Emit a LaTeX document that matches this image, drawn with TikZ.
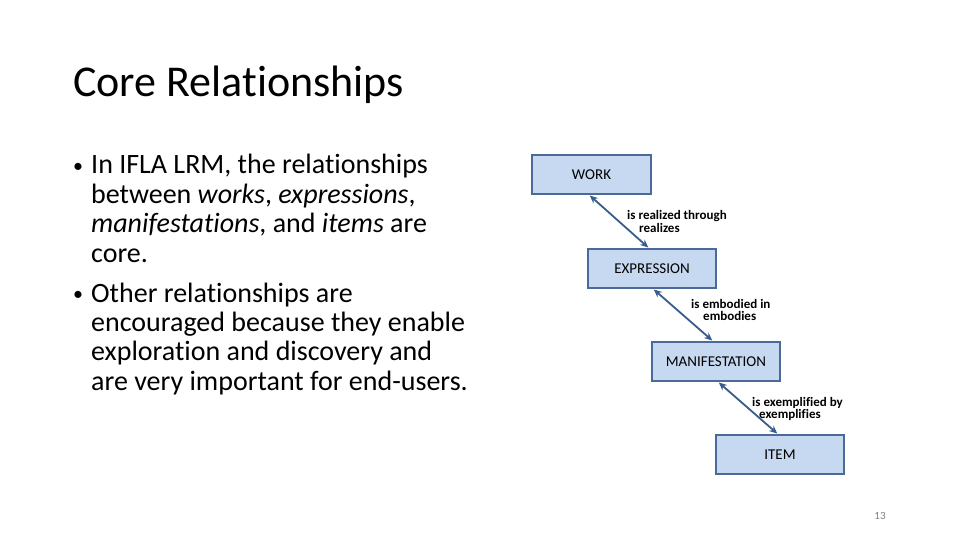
\documentclass[tikz,border=0pt]{standalone}
\usepackage{fontspec}
\setmainfont{Carlito}[Ligatures=NoCommon]
\usetikzlibrary{arrows.meta}
\definecolor{boxfill}{HTML}{C6D9F1}
\definecolor{boxline}{HTML}{4A6A9A}
\definecolor{arrowc}{HTML}{385D8A}
\begin{document}
\begin{tikzpicture}[x=1pt,y=-1pt,
  entity/.style={draw=boxline,line width=1.6pt,fill=boxfill,minimum height=39pt,inner sep=0pt,font=\fontsize{15}{16}\selectfont},
  rel/.style={font=\bfseries\fontsize{13}{12.5}\selectfont,align=left,inner sep=0pt,anchor=base west},
  link/.style={arrowc,line width=1.8pt,{Stealth[length=8pt,width=7pt]}-{Stealth[length=8pt,width=7pt]},shorten <=1pt,shorten >=1pt},
  txt/.style={anchor=base west,inner sep=0pt,font=\fontsize{28}{30}\selectfont},
  bul/.style={anchor=base west,inner sep=0pt,font=\fontsize{20}{24}\selectfont}]
\useasboundingbox (0,0) rectangle (960,540);
\fill[white] (0,0) rectangle (960,540);
\node[anchor=base west,inner sep=0pt,font=\fontsize{44}{52}\selectfont] (title) at (73,96.5) {Core Relationships};
\node[bul] (b1) at (73,172) {•};
\node[txt] (l1) at (91,174) {In IFLA LRM, the relationships};
\node[txt] (l2) at (91,203.3) {between \textit{works}, \textit{expressions},};
\node[txt] (l3) at (91,232.6) {\textit{manifestations}, and \textit{items} are};
\node[txt] (l4) at (91,262) {core.};
\node[bul] (b2) at (73,300) {•};
\node[txt] (l5) at (91,302) {Other relationships are};
\node[txt] (l6) at (91,331.3) {encouraged because they enable};
\node[txt] (l7) at (91,360.6) {exploration and discovery and};
\node[txt] (l8) at (91,390) {are very important for end-users.};
\node[entity,minimum width=119pt] (work) at (591.5,174.5) {WORK};
\node[entity,minimum width=128pt] (expr) at (652,268.5) {EXPRESSION};
\node[entity,minimum width=128pt] (mani) at (716,361.5) {MANIFESTATION};
\node[entity,minimum width=128pt] (item) at (780,454.5) {ITEM};
\draw[link] (work.south -| 589,0) -- (expr.north -| 649,0);
\draw[link] (expr.south -| 653,0) -- (mani.north -| 713,0);
\draw[link] (mani.south -| 718,0) -- (item.north -| 778,0);
\node[rel] (r1) at (627,232) {is realized through\\\hspace*{12pt}realizes};
\node[rel] (r2) at (691,320.5) {is embodied in\\\hspace*{12pt}embodies};
\node[rel] (r3) at (752,418.5) {is exemplified by\\\hspace*{7pt}exemplifies};
\node[anchor=base,inner sep=0pt,text=gray,font=\fontsize{11}{13}\selectfont] (pg) at (880,519) {13};
\end{tikzpicture}
\end{document}
